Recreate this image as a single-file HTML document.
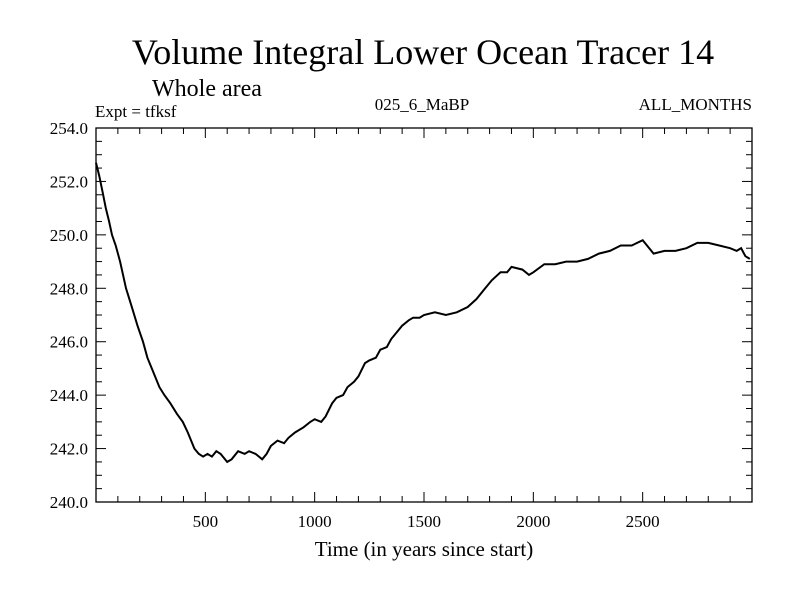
<!DOCTYPE html>
<html><head><meta charset="utf-8"><style>
body{margin:0;background:#fff}
svg text{font-family:"Liberation Serif",serif;fill:#000}
</style></head><body>
<svg id="c" width="800" height="600">
<text x="423" y="64" font-size="36" text-anchor="middle">Volume Integral Lower Ocean Tracer 14</text>
<text x="152" y="96" font-size="24">Whole area</text>
<text x="95" y="117" font-size="17">Expt = tfksf</text>
<text x="422" y="110" font-size="17" text-anchor="middle">025_6_MaBP</text>
<text x="752" y="110" font-size="17" text-anchor="end">ALL_MONTHS</text>
<rect x="96" y="128" width="656" height="374" fill="none" stroke="#000" stroke-width="1.3"/>
<g id="ax"></g>
<path id="ln" fill="none" stroke="#000" stroke-width="2"/>
<text x="424" y="556" font-size="21" text-anchor="middle">Time (in years since start)</text>
</svg>
<script>
const years=[0,15,30,45,60,73,90,110,137,160,190,215,235,260,290,313,340,370,397,420,450,470,490,510,530,550,570,590,600,620,650,680,700,730,760,780,800,830,860,880,910,950,980,1000,1030,1050,1080,1100,1130,1150,1180,1200,1230,1250,1280,1300,1330,1350,1380,1400,1430,1450,1480,1500,1550,1600,1650,1700,1740,1780,1810,1850,1880,1900,1950,1980,2000,2050,2100,2150,2200,2250,2300,2350,2400,2450,2500,2520,2550,2600,2650,2700,2750,2800,2850,2900,2930,2950,2970,2990];
const values=[252.7,252.2,251.6,251.0,250.5,250.0,249.6,249.0,248.0,247.4,246.6,246.0,245.4,244.9,244.3,244.0,243.7,243.3,243.0,242.6,242.0,241.8,241.7,241.8,241.7,241.9,241.8,241.6,241.5,241.6,241.9,241.8,241.9,241.8,241.6,241.8,242.1,242.3,242.2,242.4,242.6,242.8,243.0,243.1,243.0,243.2,243.7,243.9,244.0,244.3,244.5,244.7,245.2,245.3,245.4,245.7,245.8,246.1,246.4,246.6,246.8,246.9,246.9,247.0,247.1,247.0,247.1,247.3,247.6,248.0,248.3,248.6,248.6,248.8,248.7,248.5,248.6,248.9,248.9,249.0,249.0,249.1,249.3,249.4,249.6,249.6,249.8,249.6,249.3,249.4,249.4,249.5,249.7,249.7,249.6,249.5,249.4,249.5,249.2,249.1];
const xTicks=[500,1000,1500,2000,2500];
const yTicks=[240,242,244,246,248,250,252,254];
const X=v=>96+v*(656/3000), Y=v=>502-(v-240)*(374/14);
const ns="http://www.w3.org/2000/svg", ax=document.getElementById('ax');
function el(t,a,txt){const e=document.createElementNS(ns,t);for(const k in a)e.setAttribute(k,a[k]);if(txt!=null)e.textContent=txt;ax.appendChild(e);return e;}
for(let t=100;t<3000;t+=100){const L=t%500===0?10:6;
const a=el('line',{x1:X(t),x2:X(t),y1:502,y2:502-L,stroke:'#000'});
const b=el('line',{x1:X(t),x2:X(t),y1:128,y2:128+L,stroke:'#000'});}
xTicks.forEach(t=>{const e=el('text',{x:X(t),y:527,'font-size':17,'text-anchor':'middle'},t);});
for(let v=240.5;v<254;v+=0.5){const L=Math.abs(v%2)<1e-6?10:6;
const a=el('line',{x1:96,x2:96+L,y1:Y(v),y2:Y(v),stroke:'#000'});
const b=el('line',{x1:752,x2:752-L,y1:Y(v),y2:Y(v),stroke:'#000'});}
yTicks.forEach(v=>{const e=el('text',{x:88,y:Y(v)+6,'font-size':17,'text-anchor':'end'},v.toFixed(1));});
document.getElementById('ln').setAttribute('d',years.map((t,i)=>(i?'L':'M')+X(t).toFixed(1)+','+Y(values[i]).toFixed(1)).join(''));
</script>
</body></html>
